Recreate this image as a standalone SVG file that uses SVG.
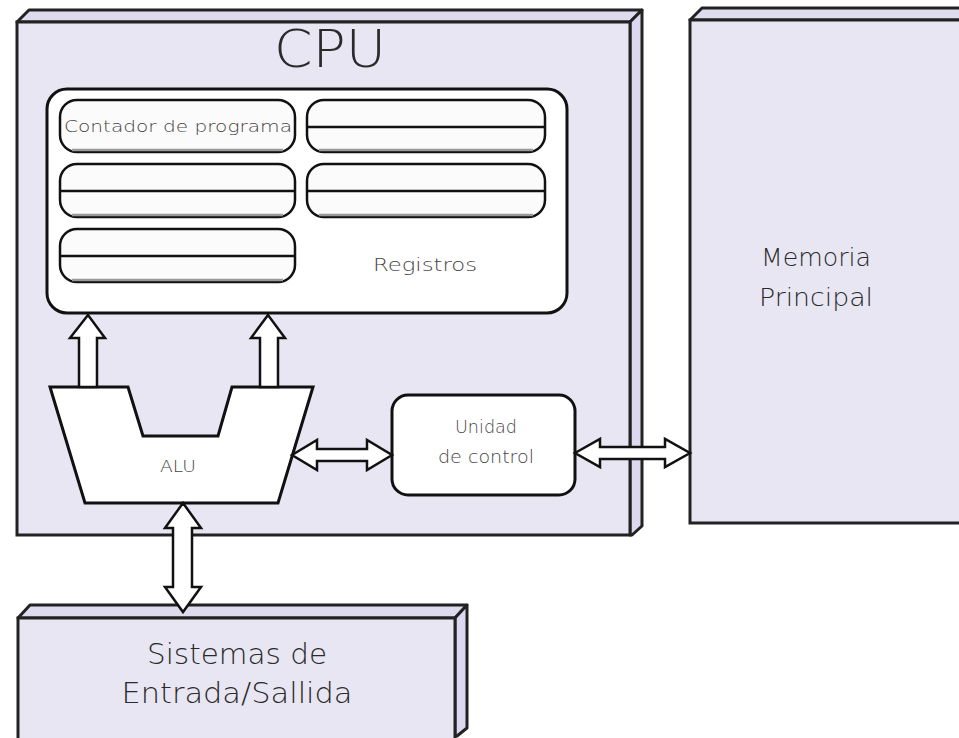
<svg xmlns="http://www.w3.org/2000/svg" width="959" height="738" viewBox="0 0 959 738">
<style>
.face{fill:#e8e6f2;stroke:#222;stroke-width:3}
.top{fill:#dedbee;stroke:#222;stroke-width:3;stroke-linejoin:round}
.side{fill:#dcd8f0;stroke:#222;stroke-width:3;stroke-linejoin:round}
.white{fill:#fff;stroke:#111;stroke-width:3}
.pill{fill:#fbfbfb;stroke:#111;stroke-width:2.5}
.mid{stroke:#111;stroke-width:2.5}
.shadow{stroke:#999;stroke-width:2.5;fill:none}
.arrow{fill:#fff;stroke:#111;stroke-width:2.5;stroke-linejoin:miter}
.t{font-family:"DejaVu Sans","Open Sans",sans-serif;font-weight:200;fill:#2a2a2a;text-anchor:middle}
.s{fill:#444}
</style>
<rect width="959" height="738" fill="#fff"/>
<g id="cpu">
  <polygon class="top" points="17,22 29,10 642,10 630,22"/>
  <polygon class="side" points="630,22 642,10 642,526 632,535 630,535"/>
  <rect class="face" x="17" y="22" width="613" height="513"/>
  <text class="t" x="330" y="67" font-size="52" textLength="112" lengthAdjust="spacingAndGlyphs">CPU</text>
</g>
<g id="memoria">
  <polygon class="top" points="690,20 702,8 962,8 962,20"/>
  <rect class="face" x="690" y="20" width="280" height="503"/>
  <text class="t" x="816" y="266" font-size="25" textLength="110" lengthAdjust="spacingAndGlyphs">Memoria</text>
  <text class="t" x="816" y="306" font-size="25" textLength="114" lengthAdjust="spacingAndGlyphs">Principal</text>
</g>
<g id="io">
  <polygon class="top" points="18,618 30,605 467,605 455,618"/>
  <polygon class="side" points="455,618 467,605 467,728 457,736 455,736"/>
  <rect class="face" x="18" y="618" width="437" height="130"/>
  <text class="t" x="237" y="664" font-size="28" textLength="180" lengthAdjust="spacingAndGlyphs">Sistemas de</text>
  <text class="t" x="237" y="703" font-size="28" textLength="231" lengthAdjust="spacingAndGlyphs">Entrada/Sallida</text>
</g>
<g id="registros">
  <rect class="white" x="47" y="89" width="520" height="224" rx="20"/>
  <text class="t s" x="425" y="271" font-size="18" textLength="104" lengthAdjust="spacingAndGlyphs">Registros</text>
</g>
<g id="contador">
  <rect class="pill" x="60" y="100" width="235" height="52" rx="17"/>
  <line class="shadow" x1="72" y1="150" x2="283" y2="150"/>
  <text class="t s" x="178" y="132" font-size="15" textLength="228" lengthAdjust="spacingAndGlyphs">Contador de programa</text>
</g>
<g id="reg1">
  <rect class="pill" x="307" y="100" width="238" height="52" rx="17"/>
  <line class="mid" x1="307" y1="127" x2="545" y2="127"/>
  <line class="shadow" x1="319" y1="150" x2="533" y2="150"/>
</g>
<g id="reg2">
  <rect class="pill" x="60" y="164" width="235" height="53" rx="17"/>
  <line class="mid" x1="60" y1="191" x2="295" y2="191"/>
  <line class="shadow" x1="72" y1="215" x2="283" y2="215"/>
</g>
<g id="reg3">
  <rect class="pill" x="307" y="164" width="238" height="53" rx="17"/>
  <line class="mid" x1="307" y1="191" x2="545" y2="191"/>
  <line class="shadow" x1="319" y1="215" x2="533" y2="215"/>
</g>
<g id="reg4">
  <rect class="pill" x="60" y="229" width="235" height="53" rx="17"/>
  <line class="mid" x1="60" y1="256" x2="295" y2="256"/>
  <line class="shadow" x1="72" y1="280" x2="283" y2="280"/>
</g>
<g id="alu">
  <polygon class="white" points="50,387 128,387 143,436 218,436 232,387 313,387 278,503 85,503"/>
  <text class="t s" x="178" y="472" font-size="15" textLength="36" lengthAdjust="spacingAndGlyphs">ALU</text>
</g>
<g id="unidad">
  <rect class="white" x="392" y="395" width="183" height="100" rx="16"/>
  <text class="t s" x="486" y="433" font-size="17" textLength="62" lengthAdjust="spacingAndGlyphs">Unidad</text>
  <text class="t s" x="486" y="463" font-size="17" textLength="96" lengthAdjust="spacingAndGlyphs">de control</text>
</g>
<g id="connectors">
  <polygon class="arrow" points="88,315 70,338 79,338 79,387 97,387 97,338 105,338"/>
  <polygon class="arrow" points="268,315 251,338 260,338 260,387 278,387 278,338 285,338"/>
  <polygon class="arrow" points="292,455 317,440 317,449 367,449 367,440 392,455 367,470 367,461 317,461 317,470"/>
  <polygon class="arrow" points="575,453 600,439 600,447 665,447 665,439 690,453 665,467 665,459 600,459 600,467"/>
  <polygon class="arrow" points="183,503 165,528 173,528 173,587 165,587 183,612 201,587 192,587 192,528 201,528"/>
</g>
</svg>
